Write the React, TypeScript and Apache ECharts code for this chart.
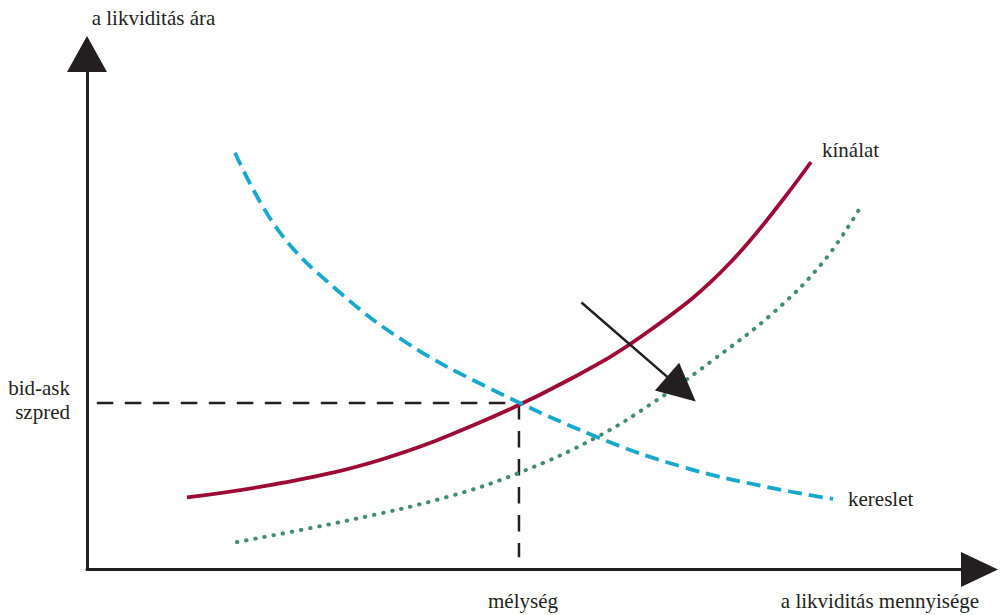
import React, { useEffect, useRef } from "react";
import * as echarts from "echarts";

// Conceptual axes: 0..100 on both (quantity of liquidity, price of liquidity)
const supplyCurve: [number, number][] = [
  [11.2, 13.97], [22.0, 16.84], [33.0, 21.34], [44.0, 28.5],
  [54.0, 36.8], [63.0, 46.3], [72.0, 59.4], [81.12, 79.05],
];
const demandCurve: [number, number][] = [
  [16.58, 80.85], [21.4, 65.86], [28.01, 54.22], [35.85, 43.94], [44.82, 35.4],
  [57.14, 25.7], [66.78, 19.88], [76.19, 16.0], [83.59, 13.68],
];
const shiftedSupplyCurve: [number, number][] = [
  [16.81, 5.33], [29.47, 9.6], [40.34, 14.06], [48.63, 18.91], [57.14, 25.7],
  [63.87, 32.88], [70.14, 40.64], [76.86, 49.76], [82.5, 59.7], [86.61, 70.13],
];
const equilibrium: [number, number] = [48.4, 32.3];
const guideStartX = 1.1;
const guideEndY = 2.4;
const shiftArrow: [number, number][] = [[55.4, 51.8], [66.6, 35.0]];

const labels = {
  yAxis: "a likviditás ára",
  xAxis: "a likviditás mennyisége",
  spread: "bid-ask\nszpred",
  depth: "mélység",
  supply: "kínálat",
  demand: "kereslet",
};

const INK = "#231F20";
const FONT = "'Liberation Serif', 'Times New Roman', serif";

export default function App() {
  const ref = useRef<HTMLDivElement>(null);
  useEffect(() => {
    if (!ref.current) return;
    const chart = echarts.init(ref.current, null, { renderer: "svg" });
    const txt = (text: string, x: number, y: number, align: string) => ({
      type: "text",
      x,
      y,
      style: {
        text,
        fill: INK,
        font: `21px ${FONT}`,
        align,
        verticalAlign: "middle",
        lineHeight: 24,
      },
    });
    chart.setOption({
      animation: false,
      backgroundColor: "#ffffff",
      grid: { left: 87, right: 20.5, top: 54, bottom: 45.5 },
      xAxis: {
        type: "value",
        min: 0,
        max: 100,
        axisLine: {
          show: true,
          symbol: ["none", "triangle"],
          symbolSize: [35, 37],
          lineStyle: { color: INK, width: 3 },
        },
        axisTick: { show: false },
        axisLabel: { show: false },
        splitLine: { show: false },
      },
      yAxis: {
        type: "value",
        min: 0,
        max: 100,
        axisLine: {
          show: true,
          symbol: ["none", "triangle"],
          symbolSize: [40, 36],
          lineStyle: { color: INK, width: 3 },
        },
        axisTick: { show: false },
        axisLabel: { show: false },
        splitLine: { show: false },
      },
      series: [
        {
          name: "shift",
          type: "line",
          data: [],
          silent: true,
          markLine: {
            silent: true,
            symbol: ["none", "triangle"],
            symbolSize: [37, 38],
            label: { show: false },
            lineStyle: { color: INK, width: 2.5, type: "solid" },
            emphasis: { disabled: true },
            data: [[{ coord: shiftArrow[0] }, { coord: shiftArrow[1] }]],
          },
        },
        {
          name: "guideH",
          type: "line",
          data: [[guideStartX, equilibrium[1]], equilibrium],
          showSymbol: false,
          silent: true,
          lineStyle: { color: INK, width: 2.5, type: [16.5, 11.5] },
        },
        {
          name: "guideV",
          type: "line",
          data: [equilibrium, [equilibrium[0], guideEndY]],
          showSymbol: false,
          silent: true,
          lineStyle: { color: INK, width: 2.5, type: [16.5, 11.5] },
        },
        {
          name: labels.supply,
          type: "line",
          data: supplyCurve,
          smooth: 0.4,
          showSymbol: false,
          silent: true,
          lineStyle: { color: "#9C0A35", width: 3.8 },
        },
        {
          name: "shifted",
          type: "line",
          data: shiftedSupplyCurve,
          smooth: 0.4,
          showSymbol: false,
          silent: true,
          lineStyle: { color: "#428D72", width: 4, type: [0.5, 8.8], cap: "round" },
        },
        {
          name: labels.demand,
          type: "line",
          data: demandCurve,
          smooth: 0.4,
          showSymbol: false,
          silent: true,
          lineStyle: { color: "#16A9CD", width: 3.8, type: [14, 7] },
        },
      ],
      graphic: [
        txt(labels.yAxis, 153.5, 18, "center"),
        txt(labels.spread, 70, 400, "right"),
        txt(labels.depth, 523, 601, "center"),
        txt(labels.xAxis, 880, 601, "center"),
        txt(labels.supply, 822, 150, "left"),
        txt(labels.demand, 848, 499, "left"),
      ],
    });
    return () => chart.dispose();
  }, []);
  return (
    <div
      ref={ref}
      style={{ position: "fixed", left: 0, top: 0, width: 1000, height: 615 }}
    />
  );
}
